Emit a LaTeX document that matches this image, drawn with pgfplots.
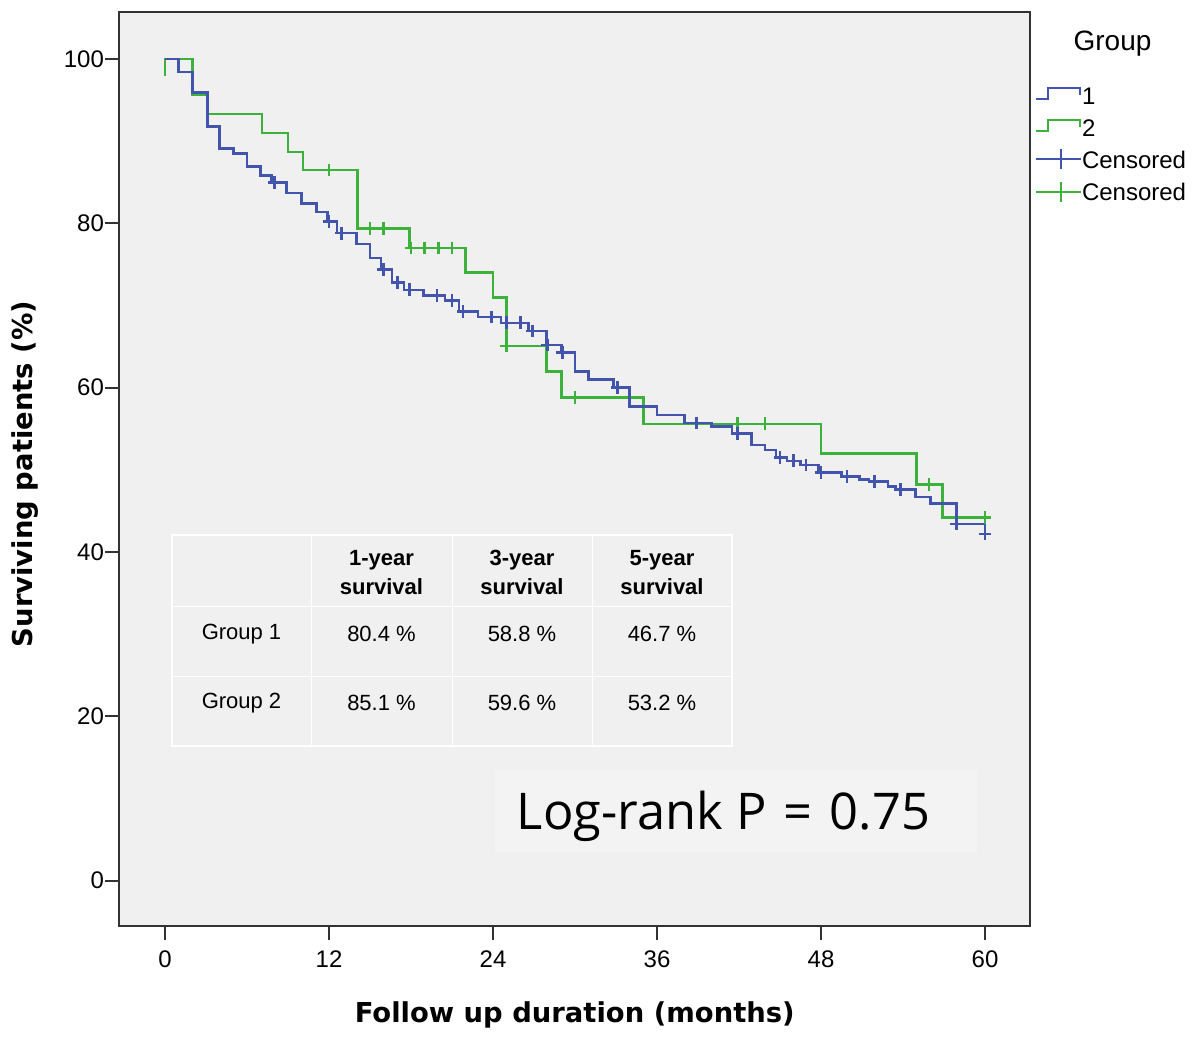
\documentclass[border=0pt]{standalone}
\usepackage{fontspec}
\setmainfont{Liberation Sans}
\newfontfamily\labfont{DejaVu Sans}
\newfontfamily\lrfont{Open Sans}
\usepackage{pgfplots}
\pgfplotsset{compat=1.18}
\definecolor{kmblue}{RGB}{66,84,172}
\definecolor{kmgreen}{RGB}{60,178,60}
\definecolor{plotbg}{RGB}{240,240,240}
\definecolor{boxbg}{RGB}{243,243,243}
\definecolor{framec}{RGB}{50,50,50}
\pgfplotsset{
  stepleg/.style={legend image code/.code={\draw[##1,line join=miter] (0pt,-1.15pt) -- (6pt,-1.15pt) -- (6pt,4.2pt) -- (22pt,4.2pt) -- (22pt,0.85pt);}},
  censleg/.style={legend image code/.code={\draw[##1] (0pt,0.8pt) -- (22.5pt,0.8pt); \draw[##1] (12.5pt,-4.2pt) -- (12.5pt,5.8pt);}},
}
\begin{document}
\begin{tikzpicture}
\begin{axis}[
  at={(0,0)}, anchor=south west,
  scale only axis, width=455.25pt, height=457pt,
  xmin=-3.33, xmax=63.29, ymin=-5.51, ymax=105.72,
  axis background/.style={fill=plotbg},
  axis line style={framec, line width=1pt},
  xtick={0,12,24,36,48,60}, ytick={0,20,40,60,80,100},
  xtick pos=bottom, ytick pos=left,
  tick align=outside, major tick length=7pt,
  tick style={framec, line width=1pt},
  tick label style={font=\fontsize{12}{14}\selectfont},
  yticklabel style={inner xsep=0.6pt},
  xticklabel style={yshift=-2pt},
  /pgf/number format/assume math mode=true,
  xlabel={Follow up duration (months)},
  ylabel={Surviving patients (\%)},
  xlabel style={at={(axis description cs:0.5,-0.0974)}, anchor=center, font=\labfont\bfseries\fontsize{13.7}{16}\selectfont},
  ylabel style={at={(axis description cs:-0.1038,0.4945)}, anchor=center, font=\labfont\bfseries\fontsize{13.7}{16}\selectfont},
  legend cell align=left,
  legend style={at={(1.0055,0.925)}, anchor=north west, draw=none, fill=none,
    inner sep=0pt, outer sep=0pt, row sep=0pt, column sep=0pt,
    font=\fontsize{12}{14}\selectfont,
    nodes={inner sep=0pt, text height=11.9pt, text depth=4.2pt}},
]
% Group 2 (green) Kaplan-Meier curve
\addplot[forget plot, const plot, kmgreen, line width=1.25pt] coordinates {
(0,97.9) (0,100) (2.0,95.7) (3.1,93.3) (7.1,91.0) (9.0,88.7) (10.1,86.5)
(14.1,79.4) (17.9,77.0) (22.0,74.0) (24.0,71.0) (25.0,65.1) (27.9,62.0)
(29.0,58.8) (35.0,55.6) (48.0,52.0) (55.0,48.2) (56.9,44.2) (60.0,44.2)
};
\addplot[forget plot, only marks, mark=+, kmgreen, mark size=3.2pt, mark options={line width=1.25pt}] coordinates {
(12.0,86.5) (15.0,79.4) (16.0,79.4) (18.0,77.0) (19.0,77.0) (20.0,77.0) (21.0,77.0)
(25.0,65.1) (30.0,58.8) (41.9,55.6) (43.9,55.6) (55.9,48.2) (60.0,44.2)
};
% Group 1 (blue) Kaplan-Meier curve
\addplot[forget plot, const plot, kmblue, line width=1.25pt] coordinates {
(0,100) (1.0,98.4) (2.0,95.9) (3.1,91.8) (4.0,89.1) (5.0,88.5) (6.0,86.9)
(7.0,85.8) (7.8,85.0) (8.9,83.7) (10.0,82.4) (11.1,81.4) (11.9,80.2) (12.6,78.8)
(14.0,77.5) (15.0,75.8) (15.8,74.4) (16.6,72.8) (17.5,71.9) (18.9,71.2) (20.5,70.6)
(21.5,69.3) (22.9,68.6) (24.6,67.9) (26.6,66.9) (27.9,65.2) (29.0,64.3) (30.0,62.0)
(31.0,61.0) (32.8,60.0) (34.0,57.7) (36.0,56.7) (38.0,55.7) (40.0,55.3) (41.5,54.4)
(42.9,53.0) (43.9,52.4) (44.7,51.5) (45.5,51.1) (46.5,50.6) (47.8,49.7) (49.5,49.2)
(50.8,48.8) (51.5,48.6) (52.9,48.0) (53.5,47.6) (54.9,46.7) (56.0,45.9) (57.9,43.4)
(60.0,43.4) (60.0,42.2)
};
\addplot[forget plot, only marks, mark=+, kmblue, mark size=3.2pt, mark options={line width=1.25pt}] coordinates {
(8.0,85.0) (12.0,80.2) (12.9,78.8) (16.0,74.4) (17.0,72.8) (17.9,71.9) (19.9,71.2)
(21.0,70.6) (21.8,69.3) (23.9,68.6) (25.0,67.9) (26.0,67.9) (26.9,66.9) (28.0,65.2)
(29.1,64.3) (33.1,60.0) (38.9,55.7) (41.9,54.4) (45.0,51.5) (46.0,51.1) (46.9,50.6)
(48.0,49.7) (49.9,49.2) (51.9,48.6) (53.8,47.6) (57.9,43.4) (60.0,42.2)
};
\addlegendimage{stepleg, kmblue, line width=1pt}
\addlegendentry{1}
\addlegendimage{stepleg, kmgreen, line width=1pt}
\addlegendentry{2}
\addlegendimage{censleg, kmblue, line width=1pt}
\addlegendentry{Censored}
\addlegendimage{censleg, kmgreen, line width=1pt}
\addlegendentry{Censored}
\end{axis}
% decorations placed in image-pixel coordinates
\begin{scope}[shift={(-59.75pt,463pt)}, x=0.5pt, y=-0.5pt]
  \node[font=\fontsize{14}{16}\selectfont] at (1112.5,43.3) {Group};
  % survival table
  \draw[white, line width=0.5pt] (311,535) -- (311,746) (452,535) -- (452,746) (592,535) -- (592,746)
       (172,607) -- (732,607) (172,677) -- (732,677);
  \draw[white, line width=1.4pt] (172,535) rectangle (732,746);
  \begin{scope}[every node/.style={font=\fontsize{11}{13}\selectfont, anchor=center, inner sep=0pt}]
    \node[font=\fontsize{11}{13}\selectfont\bfseries] at (381.5,560) {1-year};
    \node[font=\fontsize{11}{13}\selectfont\bfseries] at (381.5,587) {survival};
    \node[font=\fontsize{11}{13}\selectfont\bfseries] at (522,560) {3-year};
    \node[font=\fontsize{11}{13}\selectfont\bfseries] at (522,587) {survival};
    \node[font=\fontsize{11}{13}\selectfont\bfseries] at (662,560) {5-year};
    \node[font=\fontsize{11}{13}\selectfont\bfseries] at (662,587) {survival};
    \node at (241.5,634) {Group 1};
    \node at (381.5,634) {80.4 \%};
    \node at (522,634) {58.8 \%};
    \node at (662,634) {46.7 \%};
    \node at (241.5,703) {Group 2};
    \node at (381.5,703) {85.1 \%};
    \node at (522,703) {59.6 \%};
    \node at (662,703) {53.2 \%};
  \end{scope}
  % log-rank annotation
  \fill[boxbg] (495,770) rectangle (977,852);
  \node[font=\lrfont\fontsize{25.3}{30}\selectfont, anchor=base, inner sep=0pt] at (723.5,830) {Log-rank P\hspace{2pt} =\hspace{2pt} 0.75};
\end{scope}
\pgfresetboundingbox
\begin{scope}[shift={(-59.75pt,463pt)}, x=0.5pt, y=-0.5pt]
  \path (0,0) rectangle (1200,1044);
\end{scope}
\end{tikzpicture}
\end{document}
